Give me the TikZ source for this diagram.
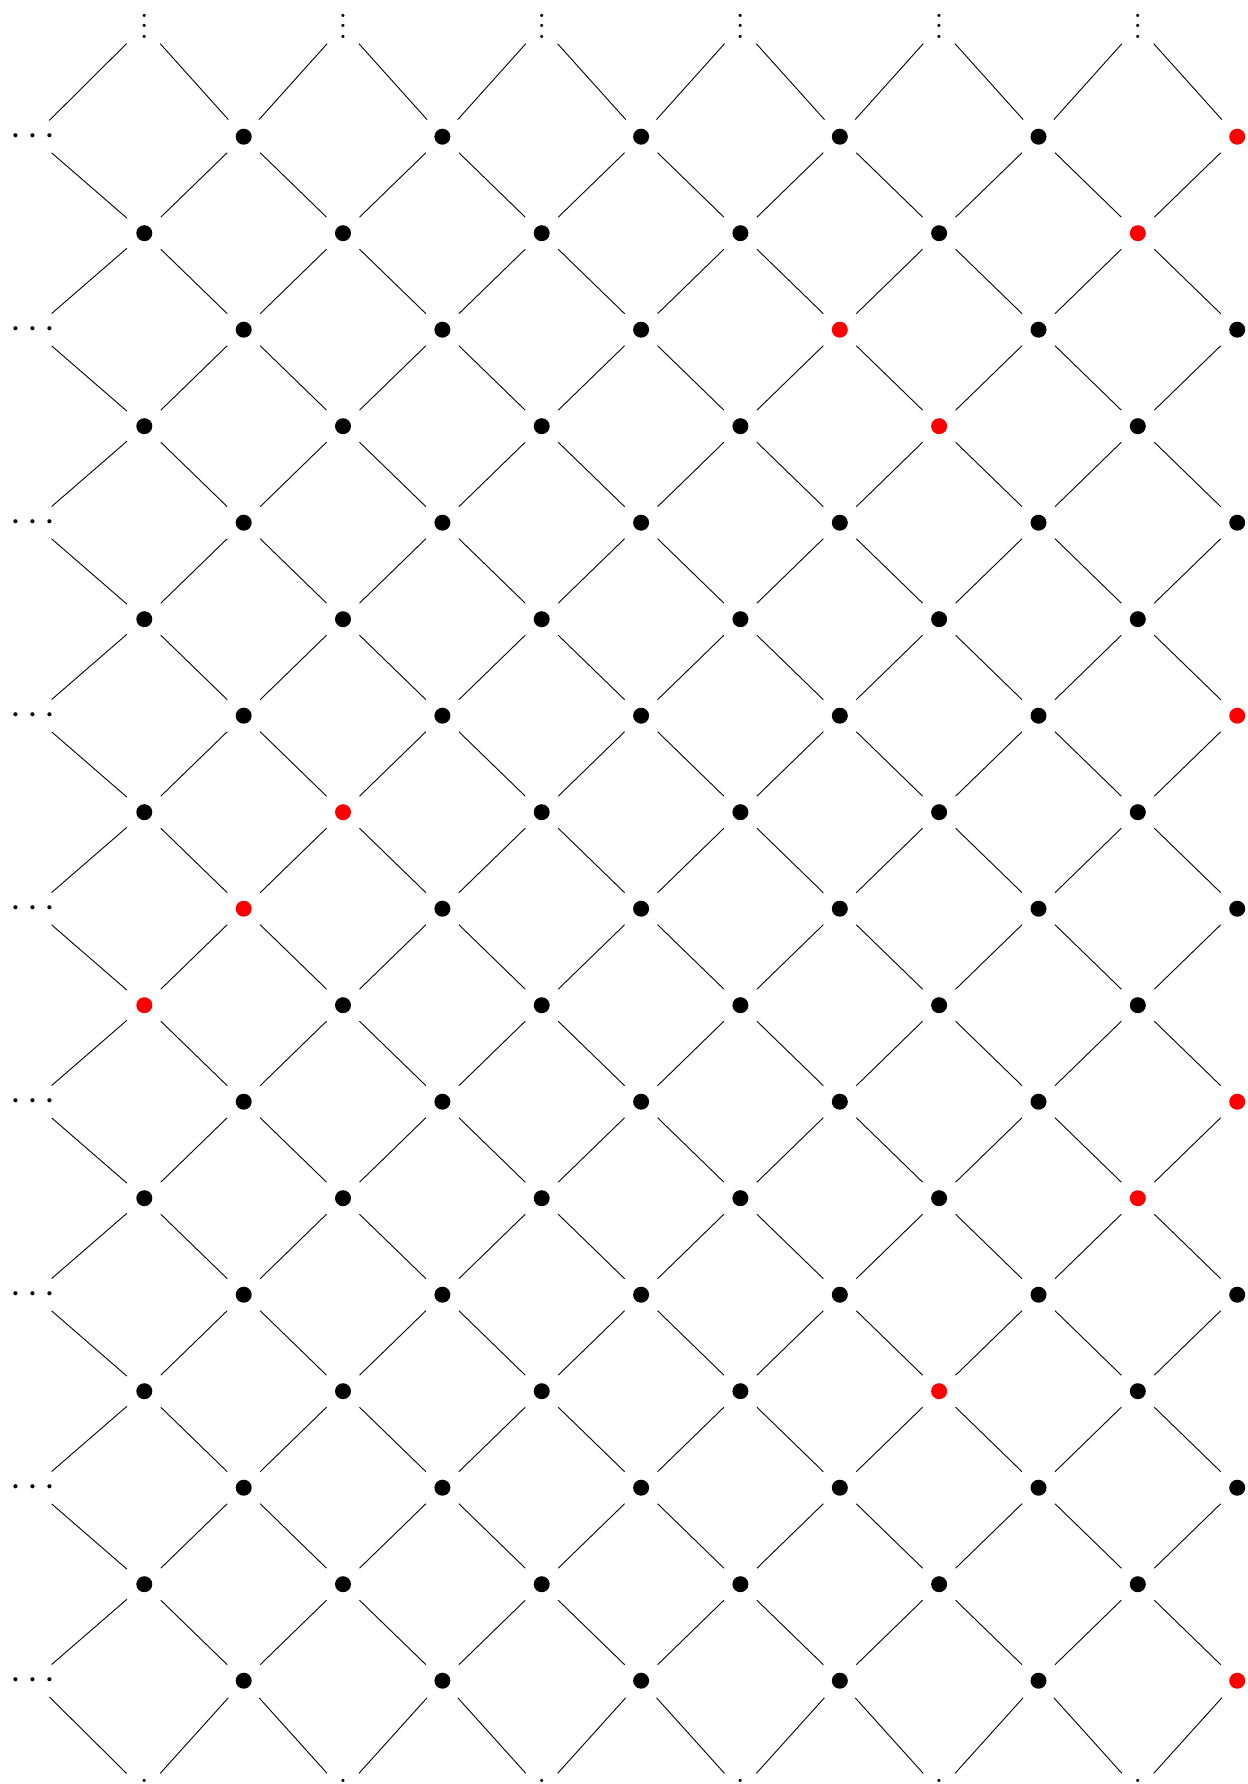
\documentclass[tikz,border=0pt]{standalone}
\usepackage{graphicx}
\newcommand\myvdots{\scalebox{3.0}{\vbox{\baselineskip3.5pt\lineskiplimit0pt\hbox{.}\hbox{.}\hbox{.}}}}
\newcommand\myhdots{\scalebox{3.9}{$\cdots$}}
\tikzset{
  pt/.style={circle, fill=black, inner sep=0pt, minimum size=16pt, outer sep=15pt},
  hdotsn/.style={inner sep=0pt, minimum width=40pt, minimum height=32pt},
  vdotsn/.style={inner sep=0pt, minimum width=36pt, minimum height=35pt},
  link/.style={line width=0.9pt, black}
}
\begin{document}
\begin{tikzpicture}[x=1pt,y=-1pt]
\useasboundingbox (0,0) rectangle (1247,1784);
\clip (0,0) rectangle (1247,1784);
\foreach \rc in {1/6,2/6,3/4,4/5,7/6,8/2,9/1,10/1,11/6,12/6,14/5,17/6}{%
  \expandafter\gdef\csname isred\rc\endcsname{}}
% lattice nodes
\foreach \r in {1,...,17}{
  \foreach \c in {1,...,6}{
    \pgfmathsetmacro\yy{136.7+(\r-1)*96.5}
    \pgfmathsetmacro\xx{mod(\r,2)==1 ? 243.7+(\c-1)*198.7 : 144.3+(\c-1)*198.7}
    \ifcsname isred\r/\c\endcsname\def\fillc{red}\else\def\fillc{black}\fi
    \node[pt, fill=\fillc] (n-\r-\c) at (\xx,\yy) {};
  }
}
% horizontal dots
\foreach \r in {1,3,...,17}{
  \pgfmathsetmacro\yy{136.7+(\r-1)*96.5}
  \node[hdotsn] (d-\r) at (33,\yy) {\myhdots};
}
% vertical dots top and bottom
\foreach \c in {1,...,6}{
  \pgfmathsetmacro\xx{144.3+(\c-1)*198.7}
  \node[vdotsn] (t-\c) at (\xx,26) {\myvdots};
  \node[vdotsn] (b-\c) at (\xx,1791) {\myvdots};
}
% edges from even rows
\foreach \r in {2,4,...,16}{
  \foreach \c in {1,...,6}{
    \pgfmathtruncatemacro\up{\r-1}
    \pgfmathtruncatemacro\dn{\r+1}
    \pgfmathtruncatemacro\cl{\c-1}
    \draw[link] (n-\r-\c) -- (n-\up-\c);
    \draw[link] (n-\r-\c) -- (n-\dn-\c);
    \ifnum\c=1
      \draw[link] (n-\r-\c) -- (d-\up);
      \draw[link] (n-\r-\c) -- (d-\dn);
    \else
      \draw[link] (n-\r-\c) -- (n-\up-\cl);
      \draw[link] (n-\r-\c) -- (n-\dn-\cl);
    \fi
  }
}
% edges to top and bottom dots
\foreach \c in {1,...,6}{
  \pgfmathtruncatemacro\cl{\c-1}
  \draw[link] (t-\c) -- (n-1-\c);
  \draw[link] (b-\c) -- (n-17-\c);
  \ifnum\c=1
    \draw[link] (t-\c) -- (d-1);
    \draw[link] (b-\c) -- (d-17);
  \else
    \draw[link] (t-\c) -- (n-1-\cl);
    \draw[link] (b-\c) -- (n-17-\cl);
  \fi
}
\end{tikzpicture}
\end{document}
